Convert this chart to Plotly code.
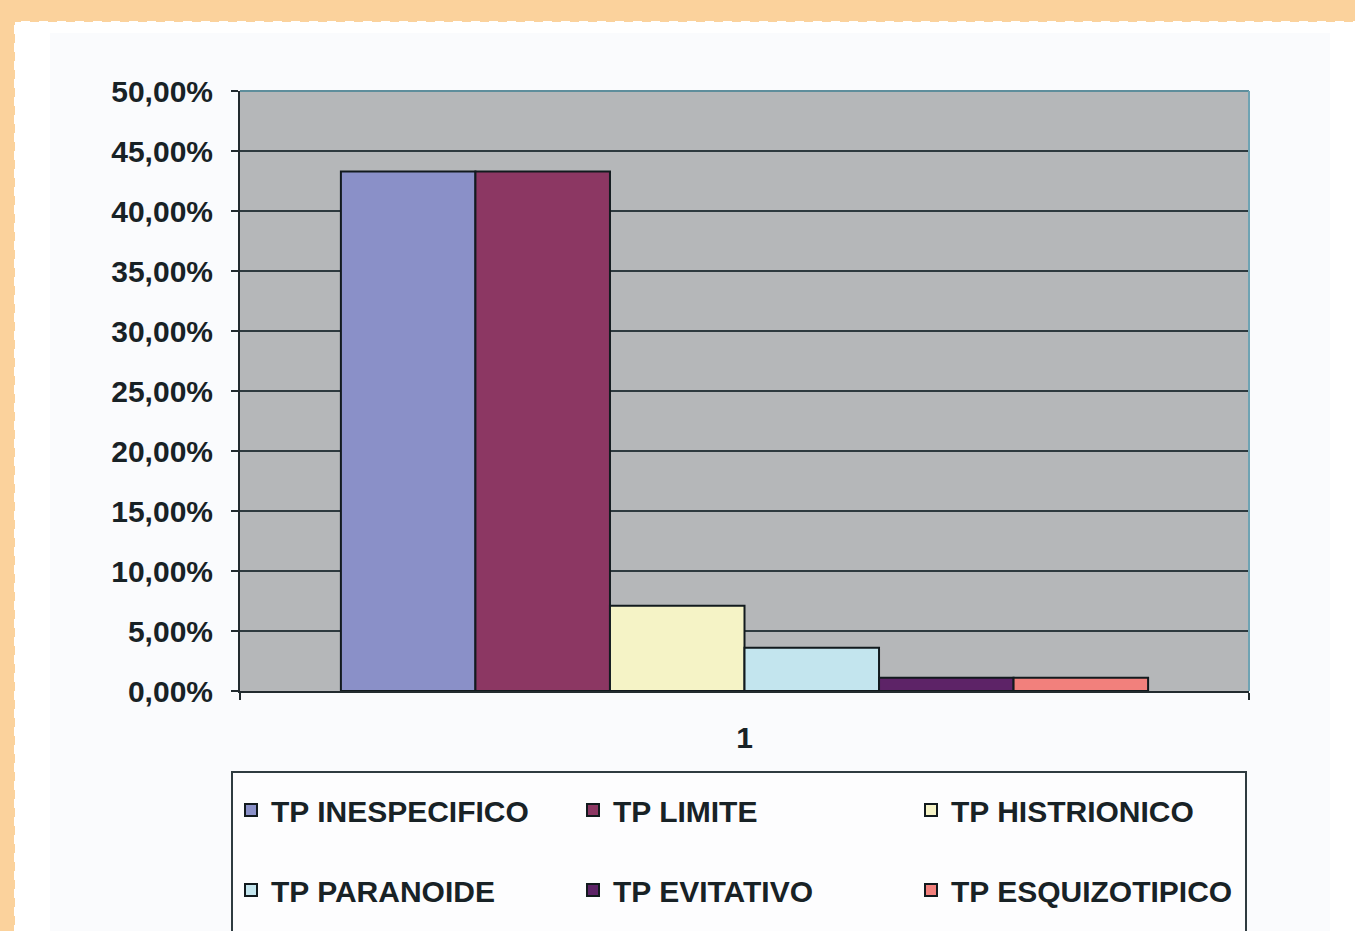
import plotly.graph_objects as go

categories = ["1"]
series_names = ["TP INESPECIFICO", "TP LIMITE", "TP HISTRIONICO",
                "TP PARANOIDE", "TP EVITATIVO", "TP ESQUIZOTIPICO"]
series_values = [43.3, 43.3, 7.1, 3.6, 1.1, 1.1]
series_colors = ["#8A90C8", "#8C3763", "#F5F3C6", "#C3E5EE", "#5D2367", "#F2807C"]
y_ticks = [0, 5, 10, 15, 20, 25, 30, 35, 40, 45, 50]
y_tick_labels = ["0,00%", "5,00%", "10,00%", "15,00%", "20,00%", "25,00%",
                 "30,00%", "35,00%", "40,00%", "45,00%", "50,00%"]

W, H = 1355, 931
L, R, T, B = 240, 1249, 91, 691  # plot area in pixels


def px(x):
    return (x - L) / (R - L)


def py(y):
    return (B - y) / (B - T)


# legend slot positions (pixels): 3 columns x 2 rows
legend_x = [231, 573, 911]
legend_y = [810, 890]
legend_ids = ["legend", "legend2", "legend3", "legend4", "legend5", "legend6"]

fig = go.Figure()
for i, (name, val, col) in enumerate(zip(series_names, series_values, series_colors)):
    fig.add_trace(go.Bar(
        x=categories, y=[val], name=name,
        marker=dict(color=col, line=dict(color="#121a1e", width=2)),
        legend=legend_ids[i],
    ))

font_family = "Arial, Liberation Sans, sans-serif"
text_color = "#182226"
shapes = [
    # white panel
    dict(type="rect", xref="paper", yref="paper", layer="below",
         x0=px(15), x1=px(1370), y0=py(945), y1=py(22),
         fillcolor="#FFFFFF", line=dict(color="#FFFFFF", width=2, dash="dash")),
    # chart area
    dict(type="rect", xref="paper", yref="paper", layer="below",
         x0=px(50), x1=px(1330), y0=py(945), y1=py(33),
         fillcolor="#FAFBFD", line=dict(width=0)),
    # plot area gray
    dict(type="rect", xref="paper", yref="paper", layer="below",
         x0=0, x1=1, y0=0, y1=1,
         fillcolor="#B5B7B9", line=dict(width=0)),
    # top & right frame (teal)
    dict(type="line", xref="paper", yref="paper", layer="above",
         x0=0, x1=1, y0=1, y1=1, line=dict(color="#5E8E9C", width=2)),
    dict(type="line", xref="paper", yref="paper", layer="above",
         x0=1, x1=1, y0=0, y1=1, line=dict(color="#6FA3B3", width=2)),
    # legend frame
    dict(type="rect", xref="paper", yref="paper", layer="below",
         x0=px(232), x1=px(1246), y0=py(945), y1=py(772),
         fillcolor="#FDFDFE", line=dict(color="#2F3B40", width=2)),
]

legend_common = dict(
    orientation="h", xanchor="left", yanchor="middle",
    bgcolor="rgba(0,0,0,0)", borderwidth=0,
    font=dict(family=font_family, size=30, color=text_color, weight="bold"),
    itemclick=False, itemdoubleclick=False,
)
legends = {}
for i, lid in enumerate(legend_ids):
    legends[lid] = dict(x=px(legend_x[i % 3]), y=py(legend_y[i // 3]), **legend_common)

fig.update_layout(
    width=W, height=H,
    margin=dict(l=L, r=W - R, t=T, b=H - B, autoexpand=False),
    paper_bgcolor="#FBD29C",
    plot_bgcolor="rgba(0,0,0,0)",
    barmode="group", bargap=0.2, bargroupgap=0,
    font=dict(family=font_family, color=text_color),
    showlegend=True,
    shapes=shapes,
    xaxis=dict(
        type="category", showgrid=False, zeroline=False,
        showline=True, linecolor="#222B2F", linewidth=2,
        ticks="outside", tickson="boundaries", ticklen=7, tickwidth=2,
        tickcolor="#222B2F", ticklabelstandoff=19,
        tickfont=dict(family=font_family, size=30, color=text_color, weight="bold"),
        fixedrange=True,
    ),
    yaxis=dict(
        range=[0, 50], tickmode="array", tickvals=y_ticks, ticktext=y_tick_labels,
        showgrid=True, gridcolor="#2E3A3F", gridwidth=2, zeroline=False,
        showline=True, linecolor="#222B2F", linewidth=2,
        ticks="outside", ticklen=7, tickwidth=2, tickcolor="#222B2F",
        ticklabelstandoff=12,
        tickfont=dict(family=font_family, size=30, color=text_color, weight="bold"),
        fixedrange=True,
    ),
    **legends,
)

fig.write_html("out.html", config={"displayModeBar": False},
               post_script="document.body.style.margin='0';")
